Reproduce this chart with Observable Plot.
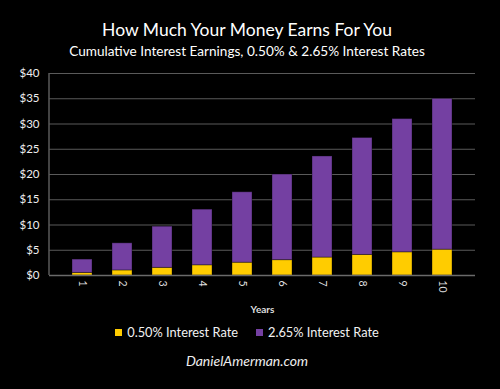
<!DOCTYPE html>
<html><head><meta charset="utf-8">
<script src="https://cdn.jsdelivr.net/npm/d3@7"></script>
<script src="https://cdn.jsdelivr.net/npm/@observablehq/plot@0.6"></script>
<style>
body{margin:0;background:#000;}
#wrap{position:relative;width:500px;height:389px;background:#000;font-family:Lato,"Open Sans",sans-serif;color:#fff;overflow:hidden}
.t{position:absolute;left:0;width:494px;text-align:center;white-space:nowrap}
#title{top:19px;font-size:17.5px}
#sub{top:43px;font-size:13.6px}
#chart{position:absolute;top:60px;left:0}
#legend{top:324px;font-size:12.8px;color:#f2f2f2}
#legend span.sw{display:inline-block;width:7px;height:7px;margin-right:5px;vertical-align:1px}
#legend span.item{margin:0 9px}
#cap{top:352px;font-size:14px;font-style:italic;color:#eee}
</style></head>
<body><div id="wrap">
<div class="t" id="title">How Much Your Money Earns For You</div>
<div class="t" id="sub">Cumulative Interest Earnings, 0.50% &amp; 2.65% Interest Rates</div>
<div id="chart"></div>
<div class="t" id="legend"></div>
<div class="t" id="cap">DanielAmerman.com</div>
</div>
<script>
const years = ["1","2","3","4","5","6","7","8","9","10"];
const lowRate = [0.50, 1.00, 1.51, 2.02, 2.53, 3.04, 3.55, 4.07, 4.59, 5.11];
const highRate = [2.65, 5.37, 8.16, 11.02, 13.95, 16.95, 20.02, 23.16, 26.38, 29.86];
const seriesNames = ["0.50% Interest Rate", "2.65% Interest Rate"];
const seriesColors = ["#ffcc00", "#7440a2"];
const yTicks = [0, 5, 10, 15, 20, 25, 30, 35, 40];

const rows = [];
years.forEach((yr, i) => {
  rows.push({year: yr, series: seriesNames[0], value: lowRate[i]});
  rows.push({year: yr, series: seriesNames[1], value: highRate[i]});
});

const plot = Plot.plot({
  width: 500,
  height: 255,
  marginLeft: 49,
  marginRight: 25,
  marginTop: 13,
  marginBottom: 40,
  style: {background: "#000", color: "#fff", fontFamily: "Lato, 'Open Sans', sans-serif"},
  x: {type: "band", domain: years, padding: 0.5},
  y: {domain: [0, 40]},
  color: {domain: seriesNames, range: seriesColors},
  marks: [
    Plot.gridY(yTicks, {stroke: "#5a5a5a", strokeOpacity: 1, strokeWidth: 1.2}),
    Plot.barY(rows, Plot.stackY({x: "year", y: "value", fill: "series", stroke: "#000", strokeOpacity: 0.35, strokeWidth: 1})),
    Plot.ruleY([0], {stroke: "#6a6a6a", strokeWidth: 1.5}),
    Plot.axisY(yTicks, {tickFormat: d => "$" + d, tickSize: 0, tickPadding: 10, fontSize: 11.5, fill: "#eee", label: null}),
    Plot.axisX({tickRotate: 90, tickSize: 0, tickPadding: 5, fontSize: 10.5, fill: "#ddd", label: "Years", labelAnchor: "center", labelOffset: 37})
  ]
});
const svg = d3.select(plot);
svg.append("line").attr("x1", 49).attr("x2", 49).attr("y1", 13).attr("y2", 215).attr("stroke", "#5a5a5a").attr("stroke-width", 1.5);
svg.selectAll("[aria-label='x-axis label'] text").attr("font-weight", "bold").attr("font-size", 10);
document.getElementById("chart").appendChild(plot);

const leg = document.getElementById("legend");
seriesNames.forEach((n, i) => {
  const it = document.createElement("span");
  it.className = "item";
  const sw = document.createElement("span");
  sw.className = "sw";
  sw.style.background = seriesColors[i];
  it.appendChild(sw);
  it.appendChild(document.createTextNode(n));
  leg.appendChild(it);
});
</script>
</body></html>
